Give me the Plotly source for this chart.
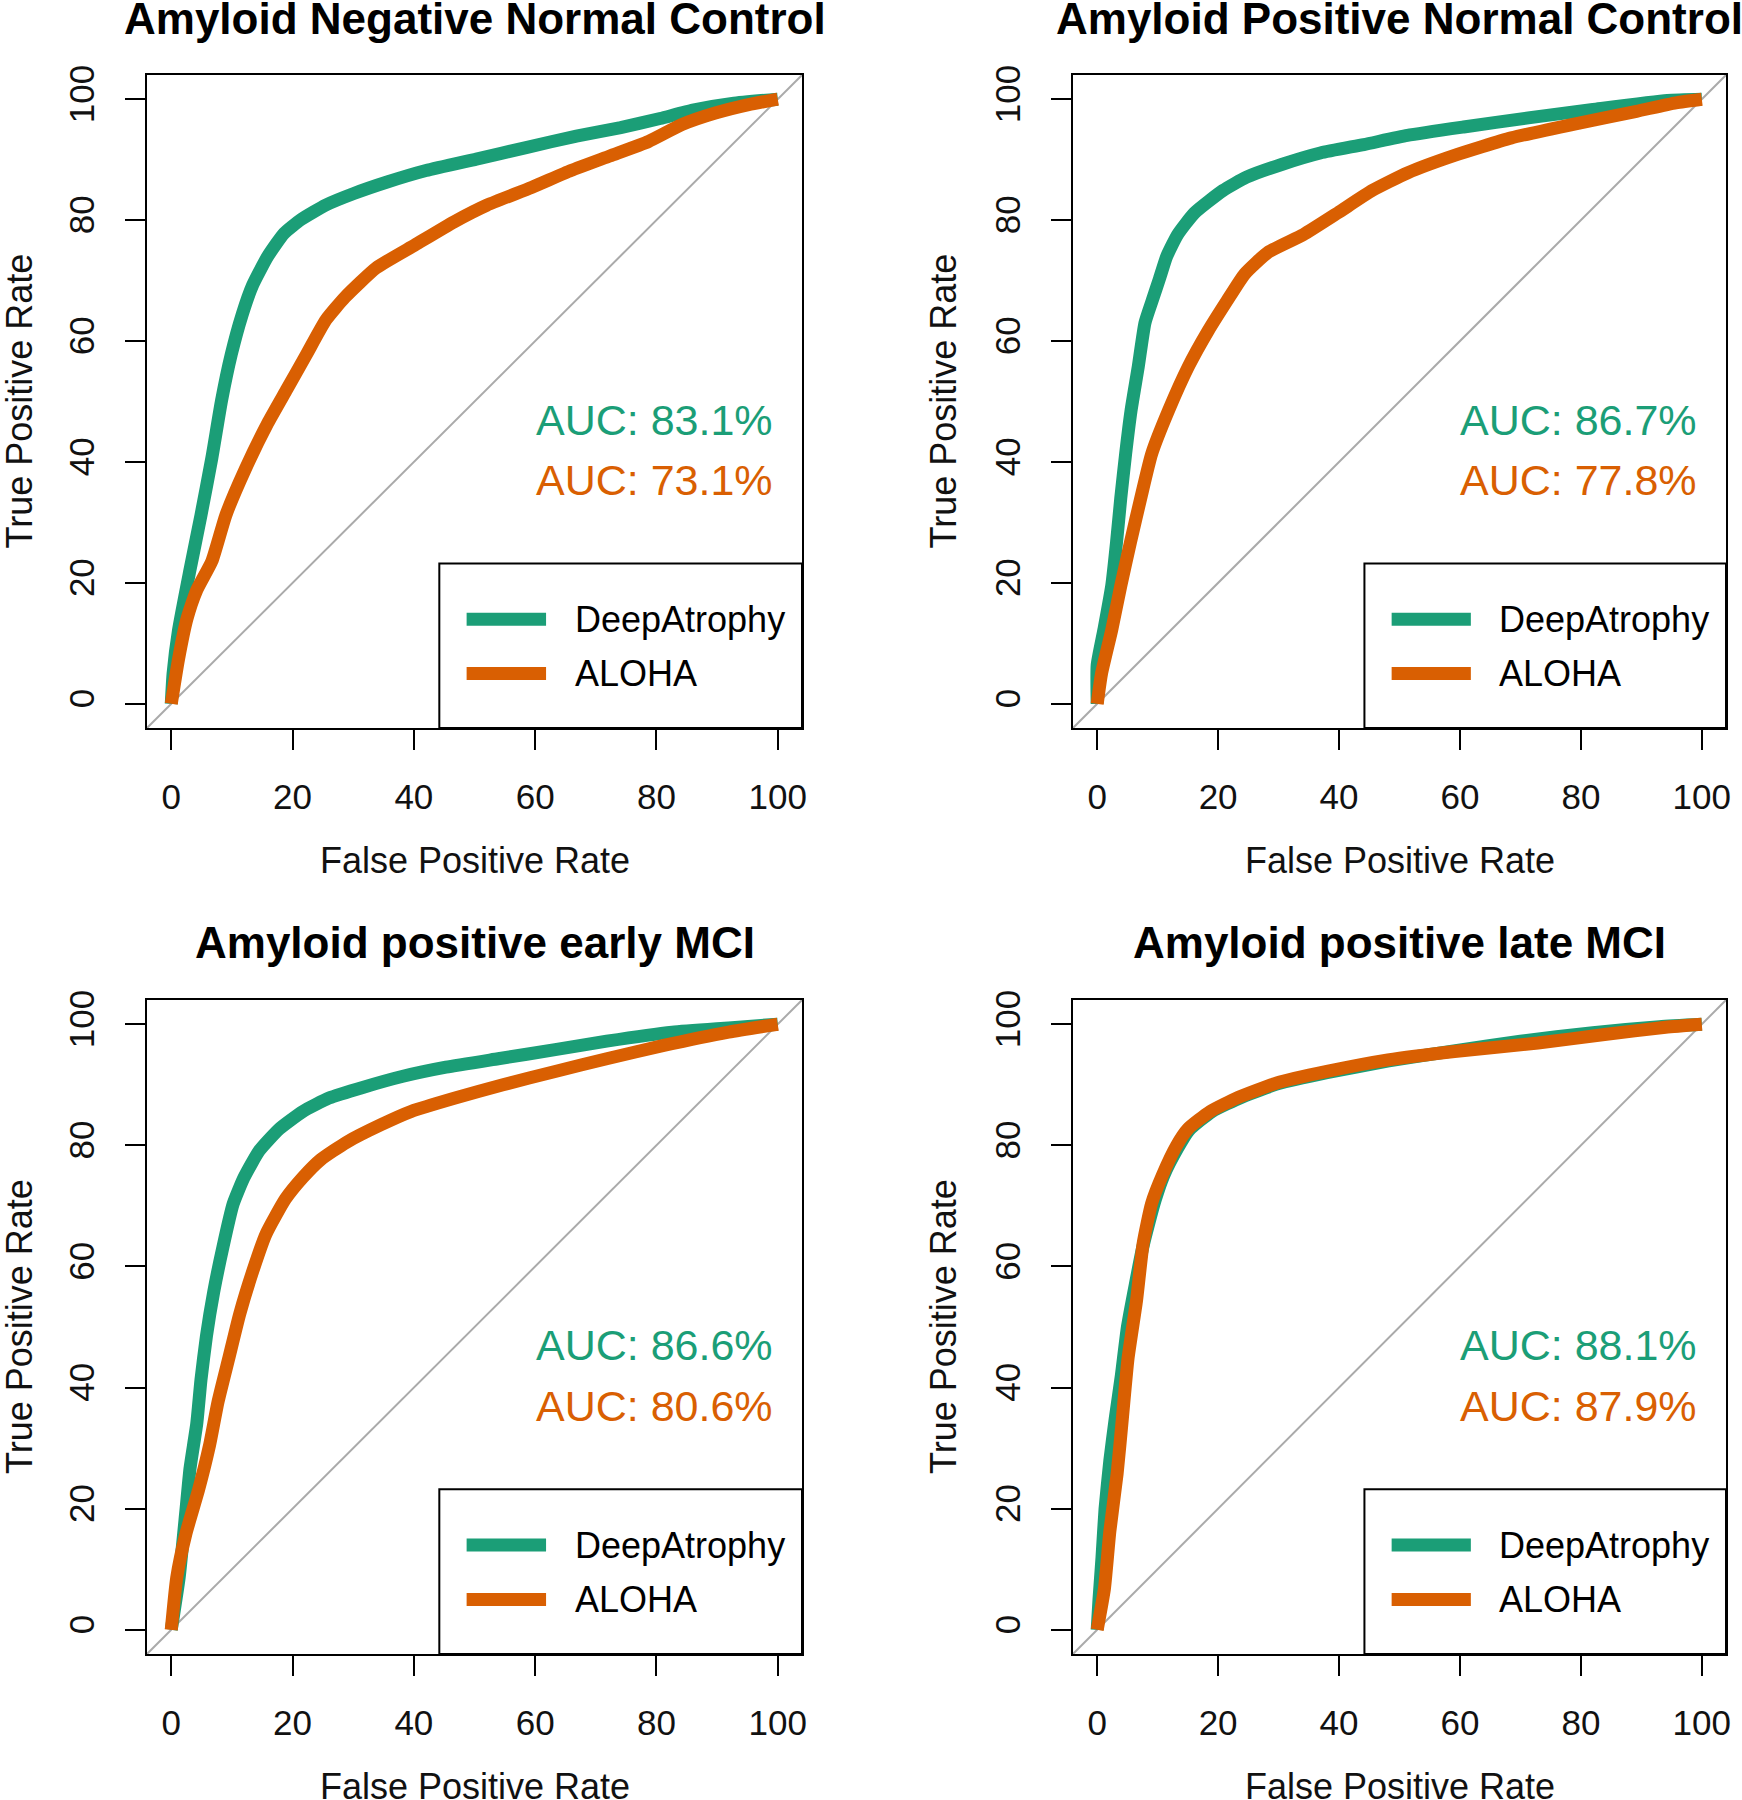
import plotly.graph_objects as go

W, H = 1742, 1800

titles = ["Amyloid Negative Normal Control", "Amyloid Positive Normal Control",
          "Amyloid positive early MCI", "Amyloid positive late MCI"]
methods = ["DeepAtrophy", "ALOHA"]
auc_deep = [83.1, 86.7, 86.6, 88.1]
auc_aloha = [73.1, 77.8, 80.6, 87.9]
tick_vals = [0, 20, 40, 60, 80, 100]
x_label = "False Positive Rate"
y_label = "True Positive Rate"

# Panel 1: Amyloid Negative Normal Control
p1_deep_fpr = [0, 0.3, 1.2, 3.0, 4.9, 6.7, 8.3, 9.9, 11.7, 13.4, 15.9, 18.6, 21.4, 25.5, 30.1, 35.6, 42.0, 50.3, 58.5, 66.8, 74.1, 80.6, 86.0, 92.5, 100]
p1_deep_tpr = [0, 5, 12.2, 21.7, 31.2, 40.7, 50.2, 57.8, 64.4, 69.2, 74.0, 77.8, 80.1, 82.5, 84.4, 86.3, 88.2, 90.1, 92.0, 93.9, 95.3, 96.8, 98.2, 99.3, 100]
p1_aloha_fpr = [0, 1.2, 2.6, 4.2, 6.7, 9.0, 12.2, 15.9, 19.1, 22.3, 25.5, 28.7, 33.8, 40.2, 46.6, 52.1, 59.4, 65.9, 72.3, 78.7, 84.2, 89.7, 95.2, 100]
p1_aloha_tpr = [0, 7.4, 14.1, 18.8, 23.6, 31.2, 38.8, 46.4, 52.1, 57.8, 63.5, 67.3, 72.1, 75.9, 79.7, 82.5, 85.4, 88.2, 90.6, 93.0, 95.8, 97.7, 99.1, 100]

# Panel 2: Amyloid Positive Normal Control
p2_deep_fpr = [0, 0, 1.1, 2.4, 3.2, 3.9, 4.7, 5.6, 6.8, 7.9, 9.1, 10.3, 11.5, 13.3, 16.1, 20.8, 24.7, 30.5, 36.9, 44.1, 51.3, 60.6, 71.3, 82.0, 94.3, 100]
p2_deep_tpr = [0, 6.4, 12.2, 19.5, 26.7, 34.0, 41.3, 48.5, 55.8, 63.0, 66.7, 70.3, 74.0, 77.6, 81.2, 84.9, 87.1, 89.2, 91.1, 92.5, 94.0, 95.4, 96.9, 98.3, 99.8, 100]
p2_aloha_fpr = [0, 0.7, 2.4, 3.9, 5.5, 7.2, 9.0, 11.8, 15.1, 18.3, 21.5, 24.4, 28.3, 34.1, 39.8, 45.5, 51.3, 59.1, 68.5, 79.9, 89.2, 95.7, 100]
p2_aloha_tpr = [0, 4.9, 12.2, 19.5, 26.7, 34.0, 41.3, 48.5, 55.8, 61.6, 66.7, 71.1, 74.7, 77.6, 81.2, 84.9, 87.8, 90.7, 93.6, 96.1, 98.0, 99.4, 100]

# Panel 3: Amyloid positive early MCI
p3_deep_fpr = [0, 1.3, 2.4, 3.1, 4.2, 4.9, 5.8, 7.0, 8.5, 10.2, 12.0, 14.5, 17.8, 21.7, 26.0, 31.7, 38.2, 45.3, 53.9, 63.3, 71.8, 82.6, 91.9, 100]
p3_deep_tpr = [0, 8.6, 19.5, 26.7, 34.0, 41.3, 48.5, 55.8, 63.1, 70.3, 74.7, 79.1, 82.7, 85.6, 87.8, 89.6, 91.4, 92.9, 94.3, 95.8, 97.2, 98.7, 99.4, 100]
p3_aloha_fpr = [0, 0.9, 2.4, 4.5, 6.3, 7.7, 9.5, 11.3, 13.5, 15.6, 18.8, 21.7, 24.6, 28.9, 34.6, 39.6, 46.8, 54.7, 63.3, 71.8, 81.2, 91.9, 100]
p3_aloha_tpr = [0, 8.6, 15.8, 23.1, 30.4, 37.6, 44.9, 52.2, 59.4, 65.3, 71.1, 74.7, 77.6, 80.5, 83.4, 85.6, 87.8, 90.0, 92.2, 94.3, 96.5, 98.7, 100]

# Panel 4: Amyloid positive late MCI
p4_deep_fpr = [0, 0.3, 0.8, 1.3, 2.1, 3.0, 4.0, 5.0, 6.3, 7.5, 8.5, 9.6, 11.0, 13.3, 15.2, 19.0, 24.0, 30.0, 38.0, 48.0, 59.0, 70.0, 82.0, 93.0, 100]
p4_deep_tpr = [0, 5, 12, 20, 28, 35, 42, 50, 57, 63, 67, 71, 75, 79.5, 82.5, 85.6, 88.0, 90.2, 92.0, 93.9, 95.6, 97.2, 98.6, 99.6, 100]
p4_aloha_fpr = [0, 1.2, 2.1, 3.3, 4.2, 5.1, 6.5, 7.6, 9.0, 10.8, 13.1, 15.0, 18.7, 23.3, 29.7, 38.0, 48.1, 59.1, 72.9, 83.9, 94.0, 100]
p4_aloha_tpr = [0, 6.8, 16.3, 25.8, 35.3, 44.8, 54.3, 63.8, 70.4, 75.1, 79.9, 82.7, 85.6, 87.9, 90.3, 92.2, 94.1, 95.5, 96.9, 98.3, 99.5, 100]

curves = [
    (p1_deep_fpr, p1_deep_tpr, p1_aloha_fpr, p1_aloha_tpr),
    (p2_deep_fpr, p2_deep_tpr, p2_aloha_fpr, p2_aloha_tpr),
    (p3_deep_fpr, p3_deep_tpr, p3_aloha_fpr, p3_aloha_tpr),
    (p4_deep_fpr, p4_deep_tpr, p4_aloha_fpr, p4_aloha_tpr),
]

GREEN = "#1B9E77"
ORANGE = "#D95F02"
colors = [GREEN, ORANGE]
FONT = "Liberation Sans, Arial, Helvetica, sans-serif"

# panel pixel boxes (left, right, top, bottom)
boxes = [(147, 802, 75, 728), (1073, 1726, 75, 728),
         (147, 802, 1000, 1654), (1073, 1726, 1000, 1654)]

def fx(px):
    return px / W

def fy(py):
    return 1 - py / H

fig = go.Figure()
layout = dict(width=W, height=H, autosize=False,
              margin=dict(l=0, r=0, t=0, b=0, pad=0, autoexpand=False),
              paper_bgcolor="white", plot_bgcolor="white", showlegend=False,
              font=dict(family=FONT, color="black", size=35))
annotations = []
shapes = []

for i in range(4):
    n = "" if i == 0 else str(i + 1)
    xa, ya = "x" + n, "y" + n
    l, r, t, b = boxes[i]
    axis_common = dict(range=[-4, 104], tickvals=tick_vals, ticks="outside", ticklen=20,
                       tickwidth=2, tickcolor="black", showline=True, linewidth=2,
                       linecolor="black", mirror=True, showgrid=False, zeroline=False,
                       automargin=False,
                       tickfont=dict(family=FONT, size=35, color="#111111"))
    layout["xaxis" + n] = dict(axis_common, domain=[fx(l), fx(r)], anchor=ya,
                               ticklabelstandoff=17)
    layout["yaxis" + n] = dict(axis_common, domain=[fy(b), fy(t)], anchor=xa,
                               tickangle=-90, ticklabelstandoff=17)

    dfpr, dtpr, afpr, atpr = curves[i]
    fig.add_trace(go.Scatter(x=dfpr, y=dtpr, mode="lines", xaxis=xa, yaxis=ya,
                             line=dict(color=GREEN, width=13, shape="spline", smoothing=0.5),
                             name=methods[0]))
    fig.add_trace(go.Scatter(x=afpr, y=atpr, mode="lines", xaxis=xa, yaxis=ya,
                             line=dict(color=ORANGE, width=13, shape="spline", smoothing=0.5),
                             name=methods[1]))

    # diagonal reference line
    shapes.append(dict(type="line", xref=xa, yref=ya, x0=-4, y0=-4, x1=104, y1=104,
                       line=dict(color="#AAAAAA", width=2), layer="below"))
    # legend box
    shapes.append(dict(type="rect", xref=xa, yref=ya, x0=44.2, y0=-4, x1=104, y1=23.2,
                       line=dict(color="black", width=2), fillcolor="rgba(0,0,0,0)"))
    for k, yy in enumerate([14.0, 5.0]):
        shapes.append(dict(type="line", xref=xa, yref=ya, x0=48.7, x1=61.8, y0=yy, y1=yy,
                           line=dict(color=colors[k], width=13)))
        annotations.append(dict(x=66.2, y=yy, xref=xa, yref=ya, text=methods[k],
                                showarrow=False, xanchor="left", yanchor="middle",
                                font=dict(family=FONT, size=36, color="black")))
    # AUC text
    for k, (yy, val) in enumerate([(47.0, auc_deep[i]), (37.0, auc_aloha[i])]):
        annotations.append(dict(x=99.6, y=yy, xref=xa, yref=ya, text=f"AUC: {val}%",
                                showarrow=False, xanchor="right", yanchor="middle",
                                font=dict(family=FONT, size=43, color=colors[k])))
    # title
    title_y = 19 if i < 2 else 942
    annotations.append(dict(x=fx((l + r) / 2), y=fy(title_y), xref="paper", yref="paper",
                            text="<b>" + titles[i] + "</b>", showarrow=False,
                            xanchor="center", yanchor="middle",
                            font=dict(family=FONT, size=44, color="black")))
    # axis labels
    xlab_y = 861 if i < 2 else 1786
    annotations.append(dict(x=fx((l + r) / 2), y=fy(xlab_y), xref="paper", yref="paper",
                            text=x_label, showarrow=False, xanchor="center", yanchor="middle",
                            font=dict(family=FONT, size=36, color="#111111")))
    ylab_x = 19 if i % 2 == 0 else 943
    annotations.append(dict(x=fx(ylab_x), y=fy((t + b) / 2), xref="paper", yref="paper",
                            text=y_label, showarrow=False, xanchor="center", yanchor="middle",
                            textangle=-90,
                            font=dict(family=FONT, size=36, color="#111111")))

layout["annotations"] = annotations
layout["shapes"] = shapes
fig.update_layout(**layout)

post = ("document.body.style.margin='0px';document.body.style.padding='0px';"
        "var gd=document.getElementById('{plot_id}');"
        "gd.style.position='absolute';gd.style.left='0px';gd.style.top='0px';")
fig.write_html("out.html", post_script=post, config={"displayModeBar": False})
